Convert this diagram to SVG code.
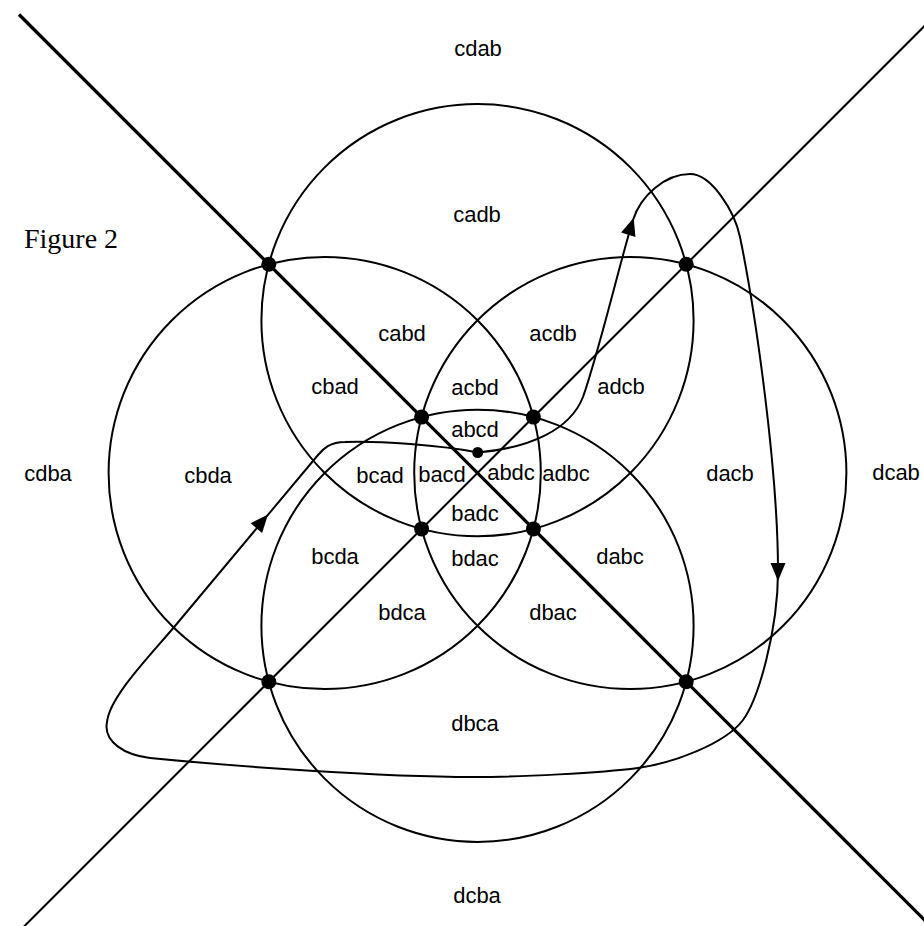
<svg xmlns="http://www.w3.org/2000/svg" xmlns:xlink="http://www.w3.org/1999/xlink" width="924" height="926" viewBox="0 0 924 926">
<style>
.c{fill:none;stroke:#000;stroke-width:2}
.ln{stroke:#000;fill:none}
.lb{font-family:"Liberation Sans",Arial,sans-serif;font-size:22px;text-anchor:middle;fill:#000}
.dot{fill:#000}
</style>
<defs>
<path id="ah" d="M0,0 L-18,-7.5 L-18,7.5 Z" fill="#000"/>
</defs>
<rect width="924" height="926" fill="#fff"/>
<g id="circles">
<circle id="circle-top" class="c" cx="477.5" cy="320.2" r="216.1"/>
<circle id="circle-bottom" class="c" cx="477.5" cy="625.8" r="216.1"/>
<circle id="circle-left" class="c" cx="324.7" cy="473" r="216.1"/>
<circle id="circle-right" class="c" cx="630.3" cy="473" r="216.1"/>
</g>
<g id="lines">
<line class="ln" x1="19" y1="14.5" x2="940" y2="935.5" stroke-width="3.3"/>
<line class="ln" x1="940" y1="10.5" x2="10" y2="940.5" stroke-width="2"/>
</g>
<g id="connectors">
<path class="ln" stroke-width="2" d="M 477.7 452.5 C 530 448 570 430 583 397 C 599.5 350 621 258 633 220 C 640.5 196 665 174 690 174 C 712 174 735 212.5 740 237 C 756 315 778 471 778 571 C 778 631 758 700 743 720 C 725 744 673 763 638 768 C 600 773 520 777 473 777 C 380 777 230 766 150 758 C 125 755 103 742 107 722 C 109.5 697 149.2 656.6 175 626 L 318 455 C 323.2 448.9 330 442 345 442 C 380 441 440 445 477.7 452.5"/>
<use xlink:href="#ah" transform="translate(268,514.4) rotate(-49.8)"/>
<use xlink:href="#ah" transform="translate(633.7,217.7) rotate(-72.5)"/>
<use xlink:href="#ah" transform="translate(778,581) rotate(90)"/>
</g>
<g id="points">
<circle class="dot" cx="268.8" cy="264.3" r="7.5"/>
<circle class="dot" cx="686.2" cy="264.3" r="7.5"/>
<circle class="dot" cx="268.8" cy="681.7" r="7.5"/>
<circle class="dot" cx="686.2" cy="681.7" r="7.5"/>
<circle class="dot" cx="421.6" cy="417.1" r="7.5"/>
<circle class="dot" cx="533.4" cy="417.1" r="7.5"/>
<circle class="dot" cx="421.6" cy="528.9" r="7.5"/>
<circle class="dot" cx="533.4" cy="528.9" r="7.5"/>
<circle class="dot" cx="477.7" cy="452.5" r="5.5"/>
</g>
<g id="labels">
<text class="lb" x="478" y="56">cdab</text>
<text class="lb" x="477" y="222">cadb</text>
<text class="lb" x="402" y="341">cabd</text>
<text class="lb" x="553" y="341">acdb</text>
<text class="lb" x="335" y="394">cbad</text>
<text class="lb" x="475" y="395">acbd</text>
<text class="lb" x="621" y="394">adcb</text>
<text class="lb" x="475" y="437">abcd</text>
<text class="lb" x="48" y="481">cdba</text>
<text class="lb" x="208" y="483">cbda</text>
<text class="lb" x="380" y="483">bcad</text>
<text class="lb" x="442" y="482">bacd</text>
<text class="lb" x="511" y="480">abdc</text>
<text class="lb" x="566" y="481">adbc</text>
<text class="lb" x="730" y="481">dacb</text>
<text class="lb" x="896" y="480">dcab</text>
<text class="lb" x="475" y="521">badc</text>
<text class="lb" x="475" y="566">bdac</text>
<text class="lb" x="335" y="564">bcda</text>
<text class="lb" x="620" y="564">dabc</text>
<text class="lb" x="402" y="620">bdca</text>
<text class="lb" x="553" y="620">dbac</text>
<text class="lb" x="475" y="731">dbca</text>
<text class="lb" x="477" y="903">dcba</text>
<text x="24" y="248" font-family="'Liberation Serif','Times New Roman',serif" font-size="28" fill="#000">Figure 2</text>
</g>
</svg>
